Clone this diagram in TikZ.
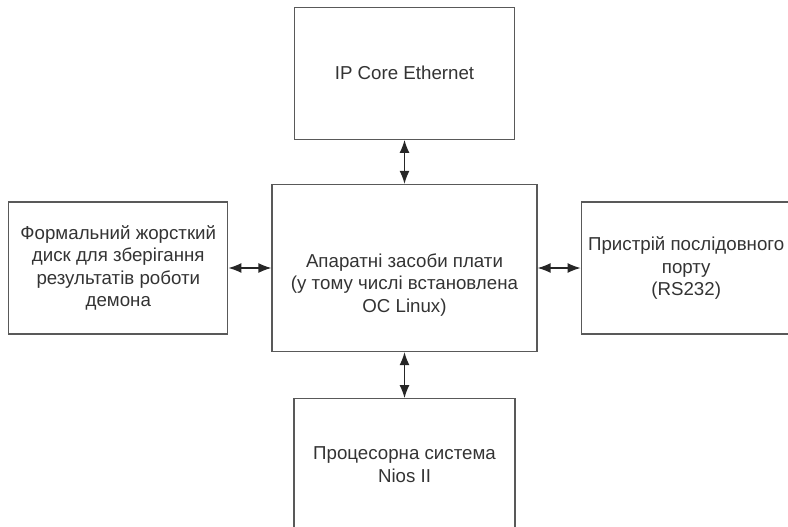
\documentclass[tikz,border=0pt]{standalone}
\usepackage{fontspec}
\setmainfont{Liberation Sans}
\usetikzlibrary{arrows.meta,positioning}

\begin{document}
\begin{tikzpicture}[x=1pt,y=1pt,node distance=44pt,
  txt/.style={font=\fontsize{18.7}{22.5}\selectfont,align=center,text=black!80},
  block/.style={txt,draw=black!65,line width=1.2pt,minimum height=132pt},
  tip/.tip={Latex[length=13pt,width=10pt]},
  every edge/.style={draw=black!85,line width=1.3pt,tip-tip}]
\useasboundingbox (0,0) rectangle (788,-527);

\node[block,minimum width=265pt,minimum height=167pt,
      label={[txt,yshift=-17pt]center:{Апаратні засоби плати\\(у тому числі встановлена\\ОС Linux)}}] (hw) at (404.5,-268) {};
\node[block,minimum width=220pt] (eth)  [above=44pt of hw] {IP Core Ethernet};
\node[block,minimum width=219pt] (disk) [left=43pt of hw]  {Формальний жорсткий\\диск для зберігання\\результатів роботи\\демона};
\node[block,minimum width=210pt] (uart) [right=43pt of hw] {Пристрій послідовного\\порту\\(RS232)};
\node[block,minimum width=221pt] (nios) [below=46pt of hw] {Процесорна система\\Nios II};

\path (hw) edge (eth)
           edge (disk)
           edge (uart)
           edge (nios);

\end{tikzpicture}
\end{document}
